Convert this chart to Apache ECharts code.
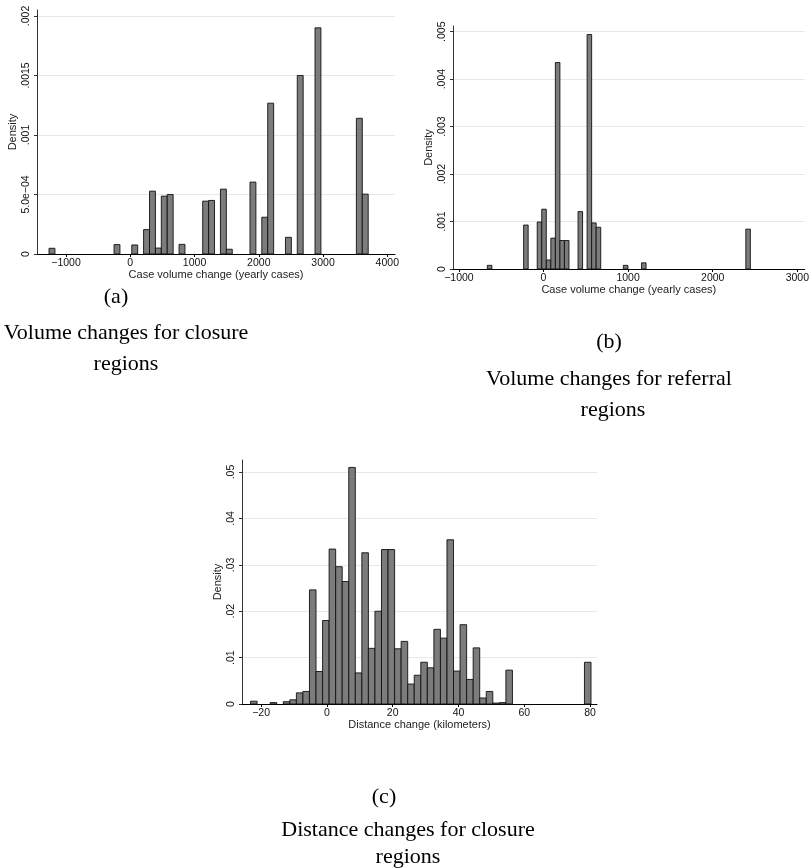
<!DOCTYPE html>
<html>
<head>
<meta charset="utf-8">
<title>Volume and distance changes</title>
<script src="https://cdn.jsdelivr.net/npm/echarts@6/dist/echarts.min.js"></script>
<style>
  html, body { margin: 0; padding: 0; background: #fff; }
  #chart { width: 812px; height: 868px; }
</style>
</head>
<body>
<div id="chart"></div>
<script>
// (a) volume changes, closure regions
const aBinStart = -1265;
const aBinWidth = 92;
const aBins = [0, 11, 14, 16, 17, 18, 19, 20, 22, 26, 27, 29, 30, 34, 36, 37, 40, 42, 45, 52, 53];
const aDensity = [0.000048, 0.000079, 0.000076, 0.000205, 0.000528, 0.00005, 0.000486, 0.0005, 0.000081,
  0.000444, 0.00045, 0.000545, 0.00004, 0.000604, 0.000309, 0.001267, 0.00014, 0.0015, 0.0019, 0.00114, 0.000503];
const aXTicks = [-1000, 0, 1000, 2000, 3000, 4000];
const aXLabels = ["−1000", "0", "1000", "2000", "3000", "4000"];
const aYTicks = [0, 0.0005, 0.001, 0.0015, 0.002];
const aYLabels = ["0", "5.0e−04", ".001", ".0015", ".002"];

// (b) volume changes, referral regions
const bBinStart = -664;
const bBinWidth = 53.6;
const bBins = [0, 8, 11, 12, 13, 14, 15, 16, 17, 20, 22, 23, 24, 30, 34, 57];
const bDensity = [0.000077, 0.000926, 0.00099, 0.00126, 0.00019, 0.00065, 0.00435, 0.0006, 0.0006,
  0.00121, 0.00494, 0.00097, 0.00088, 0.000077, 0.00013, 0.00084];
const bXTicks = [-1000, 0, 1000, 2000, 3000];
const bXLabels = ["−1000", "0", "1000", "2000", "3000"];
const bYTicks = [0, 0.001, 0.002, 0.003, 0.004, 0.005];
const bYLabels = ["0", ".001", ".002", ".003", ".004", ".005"];

// (c) distance changes, closure regions
const cBinStart = -23.2;
const cBinWidth = 1.99;
const cBins = [0, 3, 5, 6, 7, 8, 9, 10, 11, 12, 13, 14, 15, 16, 17, 18, 19, 20, 21, 22, 23, 24, 25,
  26, 27, 28, 29, 30, 31, 32, 33, 34, 35, 36, 37, 38, 39, 51];
const cDensity = [0.0006, 0.0003, 0.0005, 0.0009, 0.0024, 0.0027, 0.0246, 0.007, 0.018, 0.0334, 0.0296,
  0.0264, 0.051, 0.0067, 0.0326, 0.012, 0.02, 0.0333, 0.0333, 0.0119, 0.0135, 0.0043, 0.0062, 0.009,
  0.0078, 0.0161, 0.0142, 0.0354, 0.0071, 0.0171, 0.0053, 0.0121, 0.0013, 0.0027, 0.0002, 0.0003, 0.0073, 0.009];
const cXTicks = [-20, 0, 20, 40, 60, 80];
const cXLabels = ["−20", "0", "20", "40", "60", "80"];
const cYTicks = [0, 0.01, 0.02, 0.03, 0.04, 0.05];
const cYLabels = ["0", ".01", ".02", ".03", ".04", ".05"];

const SANS = "Liberation Sans, Arial, sans-serif";
const SERIF = "Liberation Serif, Times New Roman, serif";

// [left edge, right edge, density] per bar
function binData(start, width, bins, dens) {
  return bins.map((k, i) => [start + k * width, start + (k + 1) * width, dens[i]]);
}

function renderBin(params, api) {
  const p0 = api.coord([api.value(0), api.value(2)]);
  const p1 = api.coord([api.value(1), 0]);
  return {
    type: "rect",
    shape: { x: p0[0], y: p0[1], width: p1[0] - p0[0], height: p1[1] - p0[1] },
    style: { fill: "#7c7c7c", stroke: "#111", lineWidth: 0.9 },
  };
}

function xAxis(idx, min, max, ticks, labels, name) {
  return {
    type: "value", gridIndex: idx, min: min, max: max,
    name: name, nameLocation: "middle", nameGap: 15,
    nameTextStyle: { fontFamily: SANS, fontSize: 11, color: "#222" },
    axisLine: { onZero: false, lineStyle: { color: "#000", width: 1 } },
    axisTick: { show: true, length: 3, customValues: ticks, lineStyle: { color: "#000" } },
    axisLabel: {
      customValues: ticks, margin: 4, fontFamily: SANS, fontSize: 10.5, color: "#111",
      formatter: (v) => labels[ticks.indexOf(v)] ?? "",
    },
    splitLine: { show: false },
  };
}

function yAxis(idx, max, ticks, labels) {
  return {
    type: "value", gridIndex: idx, min: 0, max: max,
    name: "Density", nameLocation: "middle", nameGap: 19,
    nameTextStyle: { fontFamily: SANS, fontSize: 11, color: "#222" },
    axisLine: { show: true, onZero: false, lineStyle: { color: "#333", width: 1 } },
    axisTick: { show: true, length: 3, customValues: ticks, lineStyle: { color: "#333" } },
    axisLabel: {
      customValues: ticks, rotate: 90, margin: 5, fontFamily: SANS, fontSize: 10.5, color: "#111",
      formatter: (v) => {
        const i = ticks.findIndex((t) => Math.abs(t - v) < 1e-9);
        return i >= 0 ? labels[i] : "";
      },
    },
    splitLine: { show: true, showMinLine: false, showMaxLine: true, lineStyle: { color: "#e8e8e8", width: 1 } },
  };
}

function caption(x, y, text) {
  return {
    type: "text", x: x, y: y,
    style: { text: text, fill: "#000", font: "22px " + SERIF, align: "center", verticalAlign: "middle" },
  };
}

const chart = echarts.init(document.getElementById("chart"), null, { renderer: "canvas" });

const options = {
  animation: false,
  backgroundColor: "#fff",
  grid: [
    { left: 37, top: 10, width: 358, height: 244 },
    { left: 453, top: 26, width: 354, height: 243 },
    { left: 242, top: 460, width: 355, height: 244 },
  ],
  xAxis: [
    xAxis(0, -1452, 4120, aXTicks, aXLabels, "Case volume change (yearly cases)"),
    xAxis(1, -1070, 3087, bXTicks, bXLabels, "Case volume change (yearly cases)"),
    xAxis(2, -25.8, 82.1, cXTicks, cXLabels, "Distance change (kilometers)"),
  ],
  yAxis: [
    yAxis(0, 0.00205, aYTicks, aYLabels),
    yAxis(1, 0.00512, bYTicks, bYLabels),
    yAxis(2, 0.0526, cYTicks, cYLabels),
  ],
  series: [
    { type: "custom", xAxisIndex: 0, yAxisIndex: 0, renderItem: renderBin, encode: { x: [0, 1], y: 2 },
      data: binData(aBinStart, aBinWidth, aBins, aDensity) },
    { type: "custom", xAxisIndex: 1, yAxisIndex: 1, renderItem: renderBin, encode: { x: [0, 1], y: 2 },
      data: binData(bBinStart, bBinWidth, bBins, bDensity) },
    { type: "custom", xAxisIndex: 2, yAxisIndex: 2, renderItem: renderBin, encode: { x: [0, 1], y: 2 },
      data: binData(cBinStart, cBinWidth, cBins, cDensity) },
  ],
  graphic: [
    caption(116, 297, "(a)"),
    caption(126, 333, "Volume changes for closure"),
    caption(126, 364, "regions"),
    caption(609, 342, "(b)"),
    caption(609, 379, "Volume changes for referral"),
    caption(613, 410, "regions"),
    caption(384, 797, "(c)"),
    caption(408, 830, "Distance changes for closure"),
    caption(408, 857, "regions"),
  ],
};

chart.setOption(options);
</script>
</body>
</html>
